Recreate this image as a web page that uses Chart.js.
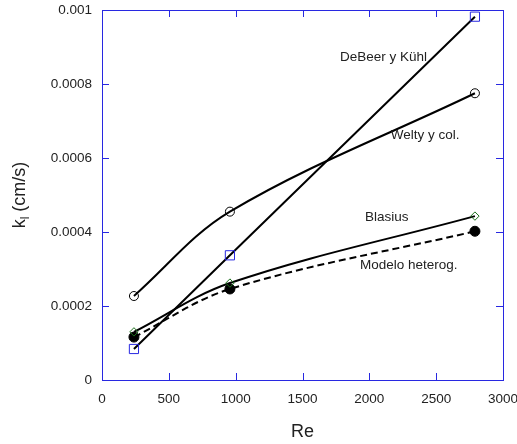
<!DOCTYPE html>
<html>
<head>
<meta charset="utf-8">
<script src="https://cdn.jsdelivr.net/npm/chart.js@4/dist/chart.umd.min.js"></script>
<style>
  html, body { margin: 0; padding: 0; background: #fff; }
  #wrap { width: 517px; height: 444px; }
</style>
</head>
<body>
<div id="wrap"><canvas id="chart"></canvas></div>
<script>
  // data
  const reValues = [239, 957, 2790]
  const deBeer = [0.0000838, 0.000337, 0.000982]
  const welty = [0.000227, 0.000455, 0.000775]
  const blasius = [0.00013, 0.000262, 0.000443]
  const modelo = [0.000116, 0.000246, 0.000402]

  const seriesNames = ['DeBeer y Kühl', 'Welty y col.', 'Blasius', 'Modelo heterog.']
  const labelRe = [1780, 2161, 1967, 1930]
  const labelK = [0.000873, 0.000662, 0.00044, 0.000311]

  const xTicks = [0, 500, 1000, 1500, 2000, 2500, 3000]
  const yTicks = [0, 0.0002, 0.0004, 0.0006, 0.0008, 0.001]

  const FONT = "'Liberation Sans', Arial, sans-serif"
  const TEXT = '#222'
  const FRAME = 'rgb(40,40,225)'

  const pts = ys => reValues.map((x, i) => ({ x: x, y: ys[i] }))

  const framePlugin = {
    id: 'frame',
    beforeDatasetsDraw(chart) {
      const { ctx, chartArea: a, scales: { x, y } } = chart
      ctx.save()
      ctx.strokeStyle = FRAME
      ctx.lineWidth = 1
      ctx.strokeRect(a.left + 0.5, a.top + 0.5, a.right - a.left, a.bottom - a.top)
      ctx.beginPath()
      xTicks.slice(1, -1).forEach(v => {
        const px = Math.round(x.getPixelForValue(v)) + 0.5
        ctx.moveTo(px, a.bottom); ctx.lineTo(px, a.bottom - 7)
        ctx.moveTo(px, a.top); ctx.lineTo(px, a.top + 7)
      })
      yTicks.slice(1, -1).forEach(v => {
        const py = Math.round(y.getPixelForValue(v)) + 0.5
        ctx.moveTo(a.left, py); ctx.lineTo(a.left + 7, py)
        ctx.moveTo(a.right, py); ctx.lineTo(a.right - 7, py)
      })
      ctx.stroke()
      ctx.restore()
    },
    afterDraw(chart) {
      const { ctx, chartArea: a, scales: { x, y } } = chart
      ctx.save()
      ctx.fillStyle = TEXT
      // curve labels
      ctx.font = '13.5px ' + FONT
      ctx.textAlign = 'left'
      ctx.textBaseline = 'middle'
      seriesNames.forEach((name, i) => {
        ctx.fillText(name, x.getPixelForValue(labelRe[i]), y.getPixelForValue(labelK[i]))
      })
      // x title
      ctx.font = '18px ' + FONT
      ctx.textAlign = 'center'
      ctx.fillText('Re', (a.left + a.right) / 2, 432)
      // y title with subscript
      ctx.translate(20, (a.top + a.bottom) / 2)
      ctx.rotate(-Math.PI / 2)
      ctx.textAlign = 'left'
      const k = 'k', sub = 'l', rest = ' (cm/s)'
      ctx.font = '18px ' + FONT
      const wk = ctx.measureText(k).width
      const wr = ctx.measureText(rest).width
      ctx.font = '12px ' + FONT
      const ws = ctx.measureText(sub).width
      const start = -(wk + ws + wr) / 2
      ctx.font = '18px ' + FONT
      ctx.fillText(k, start, 0)
      ctx.font = '12px ' + FONT
      ctx.fillText(sub, start + wk, 6)
      ctx.font = '18px ' + FONT
      ctx.fillText(rest, start + wk + ws, 0)
      ctx.restore()
    }
  }

  new Chart(document.getElementById('chart'), {
    type: 'line',
    data: {
      datasets: [
        {
          label: seriesNames[0], data: pts(deBeer),
          borderColor: '#000', borderWidth: 2, tension: 0,
          pointStyle: 'rect', pointRadius: 6.5, pointBorderWidth: 1,
          pointBorderColor: FRAME, pointBackgroundColor: 'rgba(0,0,0,0)'
        },
        {
          label: seriesNames[1], data: pts(welty),
          borderColor: '#000', borderWidth: 2, tension: 0.35,
          pointStyle: 'circle', pointRadius: 4.5, pointBorderWidth: 1,
          pointBorderColor: '#000', pointBackgroundColor: 'rgba(0,0,0,0)'
        },
        {
          label: seriesNames[2], data: pts(blasius),
          borderColor: '#000', borderWidth: 2, tension: 0.35,
          pointStyle: 'rectRot', pointRadius: 4.2, pointBorderWidth: 1,
          pointBorderColor: '#1a6e1a', pointBackgroundColor: 'rgba(0,0,0,0)'
        },
        {
          label: seriesNames[3], data: pts(modelo),
          borderColor: '#000', borderWidth: 2, borderDash: [7, 4], tension: 0.35,
          pointStyle: 'circle', pointRadius: 5, pointBorderWidth: 1,
          pointBorderColor: '#000', pointBackgroundColor: '#000'
        }
      ]
    },
    options: {
      responsive: true,
      maintainAspectRatio: false,
      animation: false,
      clip: false,
      layout: { padding: 0 },
      plugins: {
        legend: { display: false },
        tooltip: { enabled: false }
      },
      scales: {
        x: {
          type: 'linear', min: 0, max: 3000,
          grid: { display: false, drawTicks: false },
          border: { display: false },
          afterFit: s => { s.height = 64; s.paddingLeft = 0; s.paddingRight = 14 },
          afterBuildTicks: s => { s.ticks = xTicks.map(v => ({ value: v })) },
          ticks: {
            color: TEXT, font: { family: FONT, size: 13.5 }, padding: 11, maxRotation: 0,
            callback: v => String(v)
          }
        },
        y: {
          type: 'linear', min: 0, max: 0.001,
          grid: { display: false, drawTicks: false },
          border: { display: false },
          afterFit: s => { s.width = 102; s.paddingTop = 10; s.paddingBottom = 0 },
          afterBuildTicks: s => { s.ticks = yTicks.map(v => ({ value: v })) },
          ticks: {
            color: TEXT, font: { family: FONT, size: 13.5 }, padding: 10,
            callback: v => String(+v.toFixed(4))
          }
        }
      }
    },
    plugins: [framePlugin]
  })
</script>
</body>
</html>
